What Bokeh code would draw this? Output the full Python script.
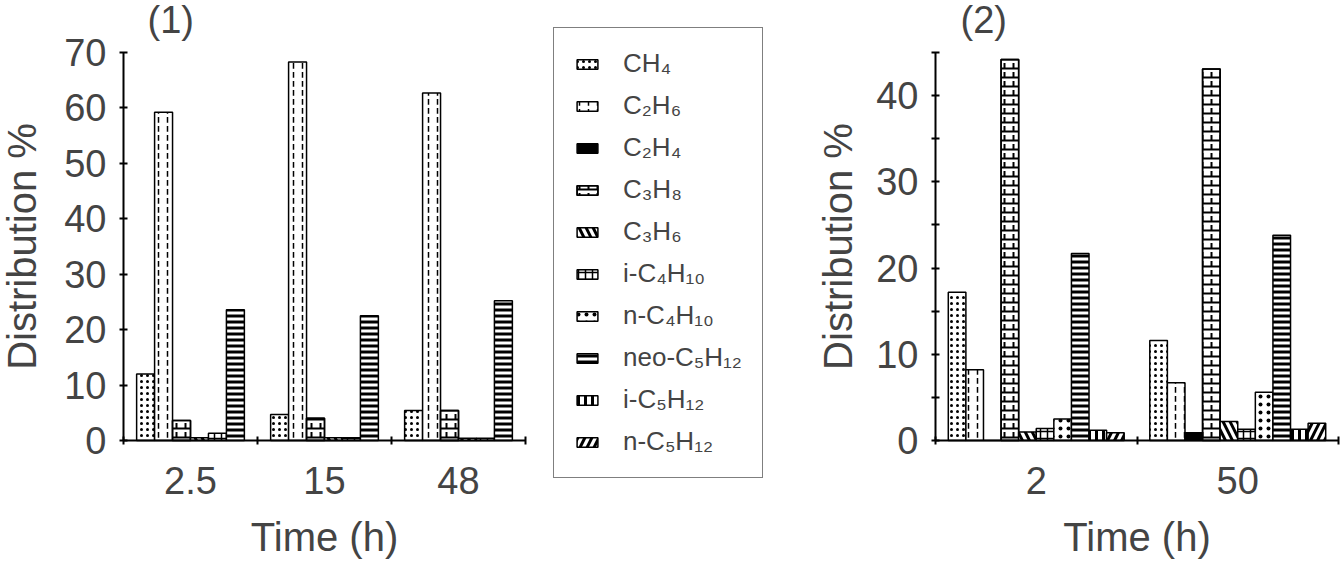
from bokeh.plotting import figure
from bokeh.models import (ColumnDataSource, Range1d, LinearAxis, FixedTicker,
                          Legend, LegendItem, LinearScale, Label)
from bokeh.transform import dodge
from bokeh.embed import file_html
from bokeh.resources import INLINE

# ---------------- data ----------------
species = ["CH4", "C2H6", "C2H4", "C3H8", "C3H6", "i-C4H10", "n-C4H10",
           "neo-C5H12", "i-C5H12", "n-C5H12"]
species_labels = ["CH₄", "C₂H₆", "C₂H₄", "C₃H₈", "C₃H₆", "i-C₄H₁₀", "n-C₄H₁₀",
                  "neo-C₅H₁₂", "i-C₅H₁₂", "n-C₅H₁₂"]

# chart (1)
times_1 = ["2.5", "15", "48"]
ch4_1 = [12.0, 4.7, 5.4]
c2h6_1 = [59.2, 68.3, 62.7]
c3h8_1 = [3.6, 4.0, 5.4]
c3h6_1 = [0.5, 0.5, 0.4]
ic4h10_1 = [1.3, 0.5, 0.4]
neoc5h12_1 = [23.6, 22.5, 25.2]

# chart (2)
times_2 = ["2", "50"]
ch4_2 = [17.2, 11.6]
c2h6_2 = [8.2, 6.7]
c2h4_2 = [0.0, 0.9]
c3h8_2 = [44.2, 43.1]
c3h6_2 = [1.0, 2.2]
ic4h10_2 = [1.4, 1.3]
nc4h10_2 = [2.5, 5.6]
neoc5h12_2 = [21.7, 23.8]
ic5h12_2 = [1.2, 1.3]
nc5h12_2 = [0.9, 2.0]

yticks_1 = [0, 10, 20, 30, 40, 50, 60, 70]
yticks_2 = [0, 10, 20, 30, 40]
yminor_2 = [5, 15, 25, 35, 45]

series_1 = {"CH4": ch4_1, "C2H6": c2h6_1, "C3H8": c3h8_1, "C3H6": c3h6_1,
            "i-C4H10": ic4h10_1, "neo-C5H12": neoc5h12_1}
series_2 = {"CH4": ch4_2, "C2H6": c2h6_2, "C2H4": c2h4_2, "C3H8": c3h8_2,
            "C3H6": c3h6_2, "i-C4H10": ic4h10_2, "n-C4H10": nc4h10_2,
            "neo-C5H12": neoc5h12_2, "i-C5H12": ic5h12_2, "n-C5H12": nc5h12_2}

# ---------------- styles (one or more hatch layers per species) ----------------
styles = {
    "CH4": [dict(fill_color="white", hatch_pattern=".", hatch_scale=6, hatch_weight=1)],
    "C2H6": [dict(fill_color="white", hatch_pattern=":", hatch_scale=9, hatch_weight=1.5)],
    "C2H4": [dict(fill_color="black", hatch_pattern=" ")],
    "C3H8": [dict(fill_color="white", hatch_pattern="-", hatch_scale=9, hatch_weight=2),
             dict(fill_color=None, hatch_pattern=":", hatch_scale=9, hatch_weight=2)],
    "C3H6": [dict(fill_color="white", hatch_pattern="\\", hatch_scale=14, hatch_weight=3)],
    "i-C4H10": [dict(fill_color="white", hatch_pattern="+", hatch_scale=7, hatch_weight=1.5)],
    "n-C4H10": [dict(fill_color="white", hatch_pattern=".", hatch_scale=8, hatch_weight=3)],
    "neo-C5H12": [dict(fill_color="white", hatch_pattern="-", hatch_scale=6, hatch_weight=3)],
    "i-C5H12": [dict(fill_color="white", hatch_pattern="|", hatch_scale=7, hatch_weight=3)],
    "n-C5H12": [dict(fill_color="white", hatch_pattern="/", hatch_scale=14, hatch_weight=3)],
}

FONT = "Liberation Sans"
W, H = 1342, 561
# pixel layout of the two plot areas (left, right, top, bottom)
AREA_1 = (123, 525, 52, 440)
AREA_2 = (935, 1338, 52, 440)

p = figure(width=W, height=H, output_backend="svg", toolbar_location=None,
           title=None, x_axis_location=None, y_axis_location=None,
           min_border=0, min_border_left=0, min_border_right=0,
           min_border_top=0, min_border_bottom=0)
p.outline_line_color = None
p.grid.visible = False


def ranges_for(area, ngroups, ymax):
    left, right, top, bottom = area
    gx = (right - left) / ngroups          # pixels per group
    ky = (bottom - top) / ymax             # pixels per unit
    xr = Range1d(-left / gx, (W - left) / gx)
    yr = Range1d(-(H - bottom) / ky, bottom / ky)
    return xr, yr


xr1, yr1 = ranges_for(AREA_1, len(times_1), yticks_1[-1])
xr2, yr2 = ranges_for(AREA_2, len(times_2), yminor_2[-1])
p.x_range = xr1
p.y_range = yr1
p.extra_x_ranges = {"c2": xr2}
p.extra_y_ranges = {"c2": yr2}
p.extra_x_scales = {"c2": LinearScale()}
p.extra_y_scales = {"c2": LinearScale()}


def add_bars(name, src, off, bar_width, rname):
    rs = []
    for st in styles[name]:
        rs.append(p.vbar(x=dodge("pos", off), top=name, width=bar_width, bottom=0,
                         source=src, line_color="black", line_width=1.5,
                         hatch_color="black", x_range_name=rname,
                         y_range_name=rname, **st))
    return rs


def make_chart(times, series, ymax, yticks, yminor, bar_width, rname,
               ylabel_standoff):
    ngroups = len(times)
    centers = [i + 0.5 for i in range(ngroups)]
    data = {"pos": centers}
    data.update(series)
    src = ColumnDataSource(data)
    n = len(series)
    renderers = {}
    for i, name in enumerate(series):
        off = (i - (n - 1) / 2) * bar_width
        renderers[name] = add_bars(name, src, off, bar_width, rname)

    ya = LinearAxis(x_range_name=rname, y_range_name=rname, fixed_location=0,
                    bounds=(0, ymax),
                    ticker=FixedTicker(ticks=yticks, minor_ticks=yminor))
    ya.axis_label = "Distribution %"
    ya.axis_label_text_font = FONT
    ya.axis_label_text_font_size = "40px"
    ya.axis_label_text_font_style = "normal"
    ya.axis_label_standoff = ylabel_standoff
    ya.major_label_text_font = FONT
    ya.major_label_text_font_size = "38px"
    ya.major_label_standoff = 13
    ya.axis_line_width = 2
    ya.major_tick_line_width = 2
    ya.minor_tick_line_width = 2
    ya.major_tick_in = 4
    ya.major_tick_out = 4
    ya.minor_tick_in = 4
    ya.minor_tick_out = 4
    p.add_layout(ya, "left")

    xa = LinearAxis(x_range_name=rname, y_range_name=rname, fixed_location=0,
                    bounds=(0, ngroups),
                    ticker=FixedTicker(ticks=centers,
                                       minor_ticks=list(range(ngroups + 1))),
                    major_label_overrides={c: t for c, t in zip(centers, times)})
    xa.axis_line_width = 2
    xa.major_tick_line_color = None
    xa.major_tick_in = 0
    xa.major_tick_out = 4
    xa.minor_tick_line_width = 2
    xa.minor_tick_in = 4
    xa.minor_tick_out = 4
    xa.major_label_text_font = FONT
    xa.major_label_text_font_size = "38px"
    xa.major_label_standoff = 22
    xa.axis_label = "Time (h)"
    xa.axis_label_text_font = FONT
    xa.axis_label_text_font_size = "40px"
    xa.axis_label_text_font_style = "normal"
    xa.axis_label_standoff = 18
    p.add_layout(xa, "below")
    return renderers


r1 = make_chart(times_1, series_1, yticks_1[-1], yticks_1, [], 0.134, "default", 17)
r2 = make_chart(times_2, series_2, yminor_2[-1], yticks_2, yminor_2, 0.0873, "c2", 13)

# panel titles
for txt, x in (("(1)", 147), ("(2)", 960)):
    p.add_layout(Label(x=x, y=H - 19, x_units="screen", y_units="screen", text=txt,
                       text_font=FONT, text_font_size="38px",
                       text_baseline="alphabetic", text_align="left"))

# ---------------- legend ----------------
items = [LegendItem(label=lab, renderers=r2[name])
         for name, lab in zip(species, species_labels)]
leg = Legend(items=items, location=(553, H - 478), padding=20, spacing=11,
             glyph_width=26, glyph_height=12, label_standoff=23, label_height=30,
             label_text_font=FONT, label_text_font_size="26px",
             border_line_color="black", border_line_width=1.5,
             background_fill_color="white", margin=0)
p.add_layout(leg)

open("out.html", "w").write(file_html(p, INLINE))
